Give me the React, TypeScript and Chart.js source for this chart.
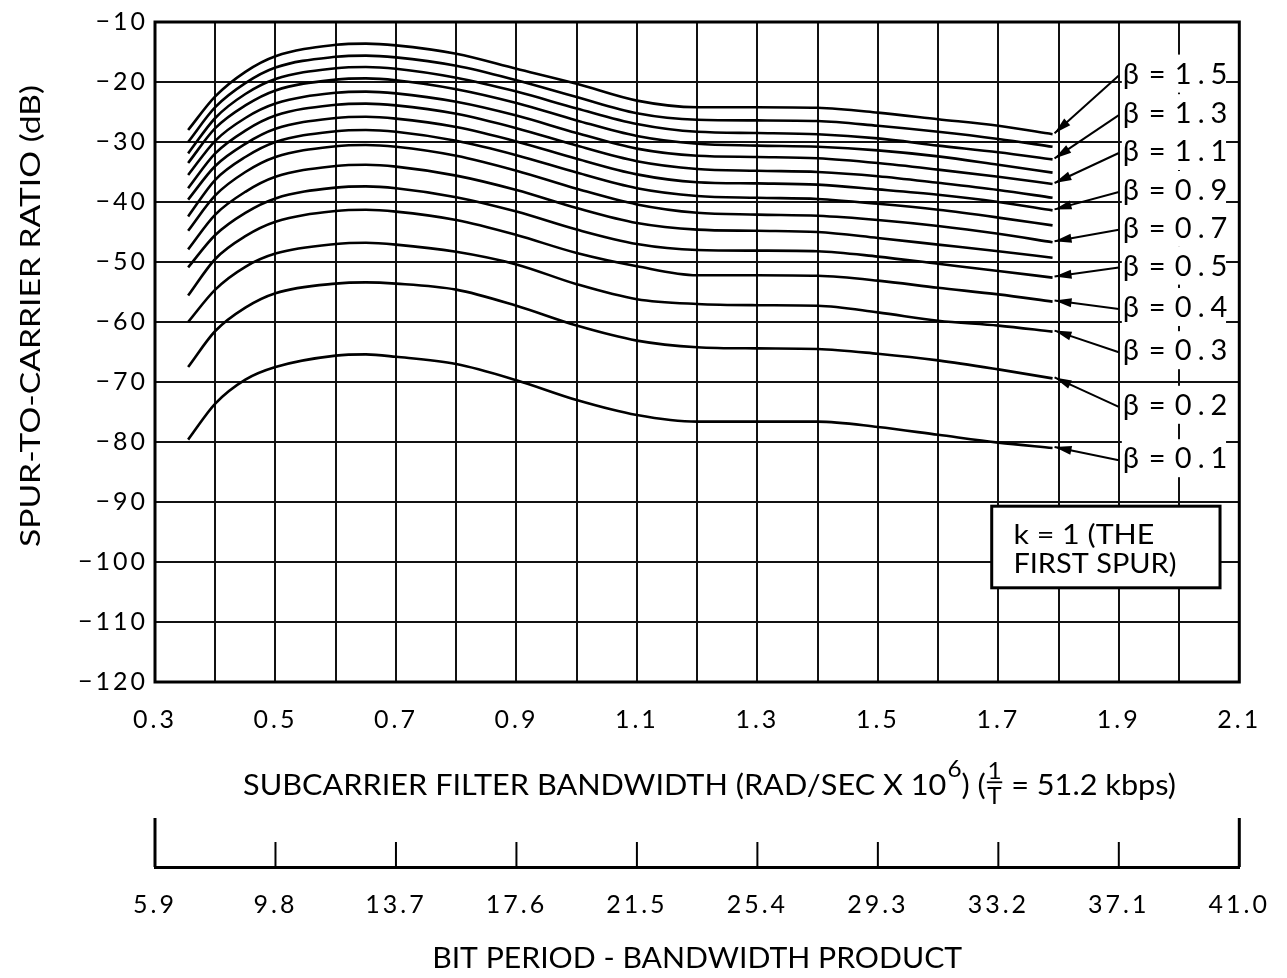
import React, { useEffect, useRef } from "react";
import { Chart, registerables } from "chart.js";

Chart.register(...registerables);

// Subcarrier filter bandwidth (rad/s x 10^6) at which each curve is sampled
const bandwidth = [0.355, 0.4, 0.45, 0.5, 0.6, 0.65, 0.7, 0.8, 0.9, 1.0, 1.1, 1.2, 1.3, 1.4, 1.5, 1.6, 1.7, 1.79];

// Spur-to-carrier ratio (dB) of the first spur, one list per modulation index beta
const beta15 = [-28.0, -22.4, -18.3, -15.7, -13.8, -13.6, -13.9, -15.3, -17.8, -20.3, -23.1, -24.2, -24.2, -24.3, -25.1, -26.2, -27.3, -28.7];
const beta14 = [-30.0, -24.2, -20.2, -17.6, -15.8, -15.6, -15.9, -17.3, -19.7, -22.5, -25.2, -26.3, -26.4, -26.5, -27.3, -28.3, -29.5, -30.8];
const beta13 = [-31.9, -26.0, -22.0, -19.5, -17.7, -17.5, -17.8, -19.3, -21.6, -24.4, -27.0, -28.3, -28.5, -28.7, -29.4, -30.6, -31.7, -32.9];
const beta12 = [-33.5, -27.7, -23.9, -21.4, -19.6, -19.4, -19.7, -21.2, -23.5, -26.4, -29.0, -30.3, -30.6, -30.8, -31.4, -32.4, -33.8, -35.1];
const beta11 = [-35.5, -29.8, -26.0, -23.6, -21.8, -21.6, -21.9, -23.3, -25.6, -28.5, -31.1, -32.3, -32.5, -32.7, -33.5, -34.6, -35.8, -37.0];
const beta10 = [-37.7, -31.9, -28.1, -25.6, -23.8, -23.6, -23.9, -25.3, -27.7, -30.6, -33.2, -34.5, -34.8, -35.0, -35.7, -36.8, -38.0, -39.3];
const beta09 = [-39.6, -34.0, -30.3, -27.8, -26.0, -25.8, -26.1, -27.5, -29.9, -32.8, -35.4, -36.7, -36.9, -37.1, -37.9, -38.8, -40.0, -41.4];
const beta08 = [-42.4, -36.3, -32.5, -30.0, -28.2, -28.0, -28.3, -29.8, -32.2, -35.1, -37.7, -39.0, -39.3, -39.5, -40.3, -41.3, -42.6, -43.9];
const beta07 = [-44.8, -38.9, -35.0, -32.5, -30.7, -30.5, -30.8, -32.3, -34.8, -37.8, -40.4, -41.8, -42.1, -42.3, -43.0, -44.0, -45.3, -46.7];
const beta06 = [-47.9, -42.1, -38.3, -35.8, -34.0, -33.8, -34.1, -35.6, -38.0, -41.0, -43.5, -44.6, -44.8, -45.0, -46.0, -47.1, -48.2, -49.3];
const beta05 = [-50.9, -45.5, -41.8, -39.4, -37.6, -37.4, -37.7, -39.2, -41.6, -44.6, -47.0, -48.0, -48.1, -48.2, -49.1, -50.3, -51.5, -52.6];
const beta04 = [-55.6, -49.5, -45.7, -43.3, -41.5, -41.3, -41.6, -43.0, -45.5, -48.5, -50.7, -52.2, -52.2, -52.3, -53.1, -54.3, -55.4, -56.6];
const beta03 = [-60.0, -54.6, -50.8, -48.6, -47.0, -46.8, -47.1, -48.3, -50.4, -53.7, -56.2, -57.0, -57.2, -57.3, -58.4, -59.8, -60.6, -61.6];
const beta02 = [-67.5, -61.5, -57.6, -55.2, -53.6, -53.4, -53.6, -54.6, -57.3, -60.6, -63.1, -64.2, -64.4, -64.5, -65.3, -66.4, -67.9, -69.4];
const beta01 = [-79.6, -73.6, -69.6, -67.5, -65.6, -65.4, -65.8, -67.0, -69.7, -73.0, -75.5, -76.6, -76.6, -76.6, -77.5, -78.8, -80.1, -81.0];

const betaValues = ["1.5", "1.4", "1.3", "1.2", "1.1", "1.0", "0.9", "0.8", "0.7", "0.6", "0.5", "0.4", "0.3", "0.2", "0.1"];
const betaSeries = [beta15, beta14, beta13, beta12, beta11, beta10, beta09, beta08, beta07, beta06, beta05, beta04, beta03, beta02, beta01];

// Curves that carry a "β = ..." call-out on the right
const labelledBetas = ["1.5", "1.3", "1.1", "0.9", "0.7", "0.5", "0.4", "0.3", "0.2", "0.1"];

// Axis tick labels
const bandwidthTickLabels = ["0.3", "0.5", "0.7", "0.9", "1.1", "1.3", "1.5", "1.7", "1.9", "2.1"];
const bitProductTickLabels = ["5.9", "9.8", "13.7", "17.6", "21.5", "25.4", "29.3", "33.2", "37.1", "41.0"];
const ratioTickLabels = ["−10", "−20", "−30", "−40", "−50", "−60", "−70", "−80", "−90", "−100", "−110", "−120"];

const TEXT_FONT = "Lato, 'DejaVu Sans', sans-serif";
const TICK_FONT = { family: TEXT_FONT, size: 25 };

// Call-out layout (in axis units)
const LABEL_ROWS_DB = [-18.6, -25.2, -31.5, -38.0, -44.3, -50.6, -57.5, -64.7, -73.8, -82.7];
const LABEL_LEFT_BW = 1.905;
const LABEL_RIGHT_BW = 2.078;
const NOTE_BOX = { left: 1.689, right: 2.068, top: -90.7, bottom: -104.3, textLeft: 1.725 };

function fitText(ctx: CanvasRenderingContext2D, text: string, size: number, x: number, baseline: number, width: number, align: "left" | "center") {
  ctx.save();
  ctx.font = `${size}px ${TEXT_FONT}`;
  (ctx as any).letterSpacing = "0px";
  const natural = ctx.measureText(text).width;
  const sx = width / natural;
  const left = align === "center" ? x - width / 2 : x;
  ctx.translate(left, baseline);
  ctx.scale(sx, 1);
  ctx.textAlign = "left";
  ctx.textBaseline = "alphabetic";
  ctx.fillText(text, 0, 0);
  ctx.restore();
}

function drawBandwidthTitle(ctx: CanvasRenderingContext2D, left: number, baseline: number, width: number) {
  const size = 29;
  const big = `${size}px ${TEXT_FONT}`;
  const small = `${Math.round(size * 0.8)}px ${TEXT_FONT}`;
  const head = "SUBCARRIER FILTER BANDWIDTH (RAD/SEC X 10";
  const sup = "6";
  const mid = ") (";
  const tail = " = 51.2 kbps)";
  ctx.save();
  (ctx as any).letterSpacing = "0px";
  ctx.font = big;
  const wHead = ctx.measureText(head).width;
  const wMid = ctx.measureText(mid).width;
  const wTail = ctx.measureText(tail).width;
  ctx.font = small;
  const wSup = ctx.measureText(sup).width;
  const wFrac = Math.max(ctx.measureText("1").width, ctx.measureText("T").width) + 3;
  const total = wHead + wSup + wMid + wFrac + wTail;
  ctx.translate(left, baseline);
  ctx.scale(width / total, 1);
  ctx.fillStyle = "#000";
  ctx.textBaseline = "alphabetic";
  ctx.textAlign = "left";
  let pos = 0;
  ctx.font = big;
  ctx.fillText(head, pos, 0);
  pos += wHead;
  ctx.font = small;
  ctx.fillText(sup, pos + 1, -size * 0.62);
  pos += wSup + 1;
  ctx.font = big;
  ctx.fillText(mid, pos, 0);
  pos += wMid;
  ctx.font = small;
  ctx.textAlign = "center";
  const fc = pos + wFrac / 2;
  ctx.fillText("1", fc, -size * 0.55);
  ctx.fillRect(pos + 1, -size * 0.47, wFrac - 2, 1.8);
  ctx.fillText("T", fc, size * 0.3);
  ctx.textAlign = "left";
  pos += wFrac;
  ctx.font = big;
  ctx.fillText(tail, pos, 0);
  ctx.restore();
}

const annotations = {
  id: "annotations",
  beforeDraw(chart: any) {
    const { ctx, width, height } = chart;
    ctx.save();
    ctx.fillStyle = "#fff";
    ctx.fillRect(0, 0, width, height);
    ctx.restore();
    ctx.letterSpacing = "3px";
  },
  afterDraw(chart: any) {
    const { ctx, chartArea, scales } = chart;
    const xs = scales.x;
    const ys = scales.y;
    const x2 = scales.x2;
    ctx.save();
    ctx.letterSpacing = "0px";
    ctx.fillStyle = "#000";
    ctx.strokeStyle = "#000";

    // β call-outs with arrows to the curve ends
    const colLeft = xs.getPixelForValue(LABEL_LEFT_BW);
    const colRight = xs.getPixelForValue(LABEL_RIGHT_BW);
    labelledBetas.forEach((b, i) => {
      const cy = ys.getPixelForValue(LABEL_ROWS_DB[i]);
      ctx.fillStyle = "#fff";
      ctx.fillRect(colLeft, cy - 19, colRight - colLeft, 38);
      ctx.fillStyle = "#000";
      ctx.font = `29px ${TEXT_FONT}`;
      ctx.textAlign = "left";
      ctx.textBaseline = "alphabetic";
      const base = cy + 10;
      ctx.fillText("β", colLeft + 1, base);
      ctx.fillText("=", colLeft + 27, base);
      ctx.letterSpacing = "6px";
      ctx.fillText(b, colLeft + 53, base);
      ctx.letterSpacing = "0px";

      const ds = betaValues.indexOf(b);
      const pts = chart.getDatasetMeta(ds).data;
      const end = pts[pts.length - 1];
      const tipX = end.x + 2;
      const tipY = end.y - 1;
      const tailX = colLeft - 3;
      const tailY = cy + 2;
      ctx.lineWidth = 2;
      ctx.beginPath();
      ctx.moveTo(tailX, tailY);
      ctx.lineTo(tipX, tipY);
      ctx.stroke();
      const ang = Math.atan2(tipY - tailY, tipX - tailX);
      const len = 17;
      const hw = 4.5;
      ctx.beginPath();
      ctx.moveTo(tipX, tipY);
      ctx.lineTo(tipX - len * Math.cos(ang) + hw * Math.sin(ang), tipY - len * Math.sin(ang) - hw * Math.cos(ang));
      ctx.lineTo(tipX - len * Math.cos(ang) - hw * Math.sin(ang), tipY - len * Math.sin(ang) + hw * Math.cos(ang));
      ctx.closePath();
      ctx.fill();
    });

    // Note box
    const nl = xs.getPixelForValue(NOTE_BOX.left);
    const nr = xs.getPixelForValue(NOTE_BOX.right);
    const nt = ys.getPixelForValue(NOTE_BOX.top);
    const nb = ys.getPixelForValue(NOTE_BOX.bottom);
    ctx.fillStyle = "#fff";
    ctx.fillRect(nl, nt, nr - nl, nb - nt);
    ctx.fillStyle = "#000";
    ctx.lineWidth = 3;
    ctx.strokeRect(nl, nt, nr - nl, nb - nt);
    const tl = xs.getPixelForValue(NOTE_BOX.textLeft);
    fitText(ctx, "k = 1 (THE", 27, tl, nt + 38, 141, "left");
    fitText(ctx, "FIRST SPUR)", 27, tl, nt + 67, 163, "left");

    // Plot frame
    ctx.lineWidth = 3;
    ctx.strokeRect(chartArea.left, chartArea.top, chartArea.right - chartArea.left, chartArea.bottom - chartArea.top);

    // Bit period - bandwidth product scale: upward ticks
    const base2 = x2.top;
    x2.ticks.forEach((t: any, i: number) => {
      const px = x2.getPixelForValue(t.value);
      const isEnd = i === 0 || i === x2.ticks.length - 1;
      ctx.lineWidth = isEnd ? 3 : 2;
      ctx.beginPath();
      ctx.moveTo(px, base2);
      ctx.lineTo(px, base2 - (isEnd ? 49 : 25));
      ctx.stroke();
    });

    // Axis titles
    const midX = (chartArea.left + chartArea.right) / 2;
    drawBandwidthTitle(ctx, 243, 795, 932);
    fitText(ctx, "BIT PERIOD - BANDWIDTH PRODUCT", 29, midX, 968, 530, "center");
    ctx.save();
    ctx.translate(30, 316);
    ctx.rotate(-Math.PI / 2);
    fitText(ctx, "SPUR-TO-CARRIER RATIO (dB)", 27, 0, 9.7, 462, "center");
    ctx.restore();

    ctx.restore();
  },
};

export default function App() {
  const ref = useRef<HTMLCanvasElement>(null);

  useEffect(() => {
    const canvas = ref.current;
    if (!canvas) return;
    const bandwidthTickValues = bandwidthTickLabels.map(Number);
    const chart = new Chart(canvas, {
      type: "line",
      data: {
        datasets: betaSeries.map((series, k) => ({
          label: `β = ${betaValues[k]}`,
          data: bandwidth.map((b, i) => ({ x: b, y: series[i] })),
          borderColor: "#000",
          borderWidth: 2.6,
          pointRadius: 0,
          fill: false,
          cubicInterpolationMode: "monotone",
        })),
      },
      options: {
        responsive: false,
        animation: false,
        devicePixelRatio: 1,
        events: [],
        layout: { padding: { top: 18, right: 30, bottom: 0, left: 0 } },
        plugins: { legend: { display: false }, tooltip: { enabled: false }, title: { display: false } },
        scales: {
          x: {
            type: "linear",
            position: "bottom",
            min: 0.3,
            max: 2.1,
            afterFit: (s: any) => {
              s.height = 185;
            },
            grid: { color: "#111", lineWidth: 2, drawTicks: false },
            border: { display: false },
            ticks: {
              stepSize: 0.1,
              autoSkip: false,
              maxRotation: 0,
              padding: 23,
              color: "#000",
              font: TICK_FONT,
              callback: (v: any) => {
                const i = bandwidthTickValues.findIndex((t) => Math.abs(t - Number(v)) < 1e-6);
                return i >= 0 ? bandwidthTickLabels[i] : "";
              },
            },
          },
          x2: {
            type: "linear",
            position: "bottom",
            min: 0.3,
            max: 2.1,
            afterFit: (s: any) => {
              s.height = 111;
            },
            afterBuildTicks: (s: any) => {
              s.ticks = bandwidthTickValues.map((v) => ({ value: v }));
            },
            grid: { display: false, drawTicks: false },
            border: { display: true, color: "#000", width: 3 },
            ticks: {
              autoSkip: false,
              maxRotation: 0,
              padding: 23,
              color: "#000",
              font: TICK_FONT,
              callback: (_v: any, i: number) => bitProductTickLabels[i],
            },
          },
          y: {
            type: "linear",
            min: -120,
            max: -10,
            afterFit: (s: any) => {
              s.width = 155;
            },
            grid: { color: "#111", lineWidth: 2, drawTicks: false },
            border: { display: false },
            ticks: {
              stepSize: 10,
              padding: 7,
              color: "#000",
              font: TICK_FONT,
              callback: (v: any) => ratioTickLabels[Math.round((-10 - Number(v)) / 10)] ?? "",
            },
          },
        },
      },
      plugins: [annotations],
    } as any);
    return () => chart.destroy();
  }, []);

  return (
    <canvas
      ref={ref}
      width={1287}
      height={978}
      style={{ position: "absolute", left: 0, top: 0, display: "block" }}
    />
  );
}
